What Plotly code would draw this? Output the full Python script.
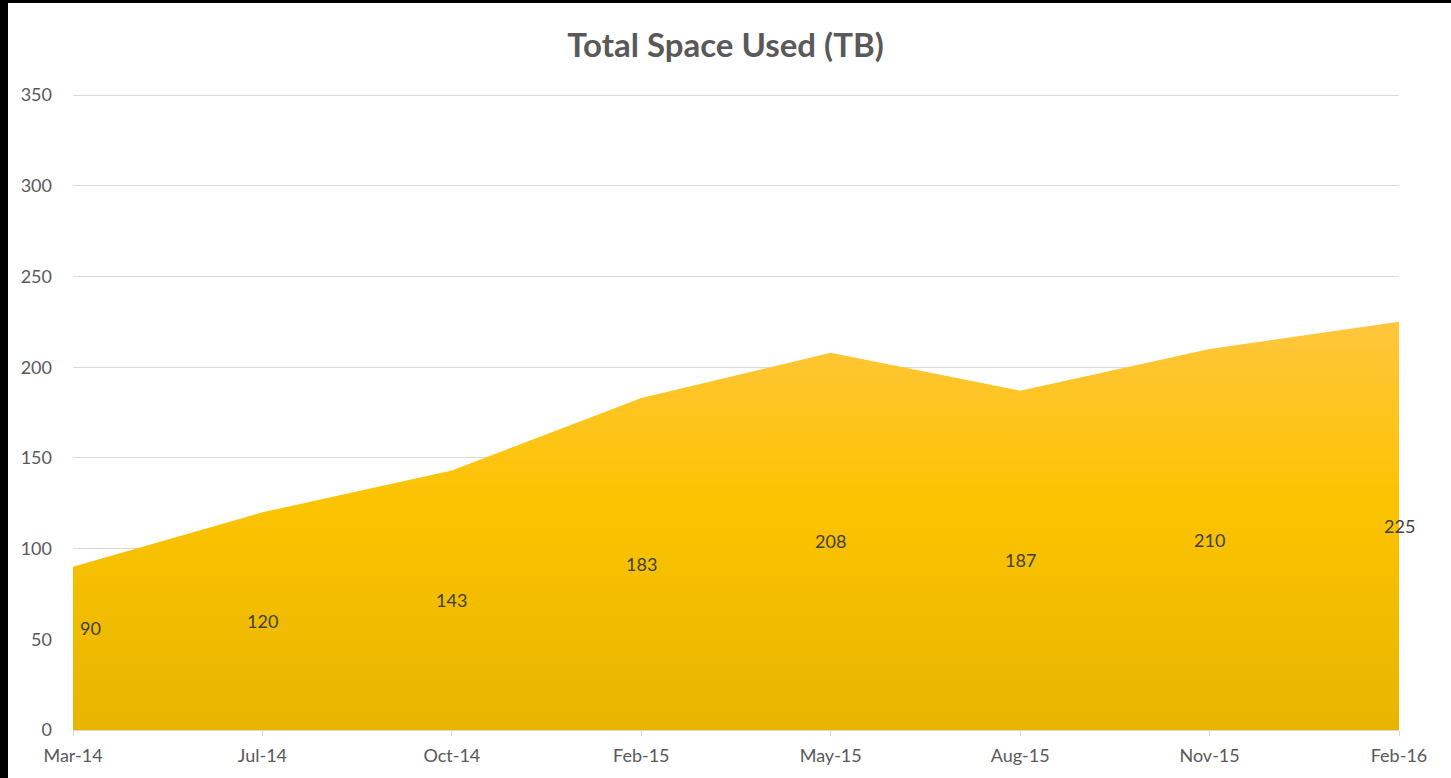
import plotly.graph_objects as go

categories = ["Mar-14", "Jul-14", "Oct-14", "Feb-15", "May-15", "Aug-15", "Nov-15", "Feb-16"]
space_tb = [90, 120, 143, 183, 208, 187, 210, 225]
y_ticks = [0, 50, 100, 150, 200, 250, 300, 350]

W, H = 1451, 778
ML, MR, MT, MB = 73, 52, 94, 48
PW = W - ML - MR
PH = H - MT - MB
FONT = "Lato, Open Sans, sans-serif"

fig = go.Figure()
fig.add_trace(go.Scatter(
    x=categories, y=space_tb, mode="lines", fill="tozeroy",
    line=dict(width=0, color="#FBC200"),
    fillgradient=dict(type="vertical", start=0, stop=max(space_tb),
                      colorscale=[[0, "#E7B500"], [0.55, "#FCC300"], [1, "#FFC63D"]]),
    hoverinfo="x+y", showlegend=False,
))

annotations = []
for i, (c, v) in enumerate(zip(categories, space_tb)):
    xs, ys = (17, 20) if i == 0 else (0, 0)
    annotations.append(dict(x=c, y=v / 2, text=str(v), showarrow=False,
                            xshift=xs, yshift=ys,
                            font=dict(family=FONT, size=18, color="#404040")))

fig.update_layout(
    width=W, height=H,
    margin=dict(l=ML, r=MR, t=MT, b=MB),
    paper_bgcolor="white", plot_bgcolor="white",
    title=dict(text="<b>Total Space Used (TB)</b>", x=0.5, xanchor="center",
               y=1 - 45 / H, yanchor="middle",
               font=dict(family=FONT, size=33, color="#595959")),
    annotations=annotations,
    xaxis=dict(type="category", range=[0, len(categories) - 1], showgrid=False,
               showline=True, linecolor="#D9D9D9", linewidth=1,
               ticks="outside", ticklen=5, tickcolor="#D9D9D9",
               tickfont=dict(family=FONT, size=18, color="#595959"),
               ticklabelstandoff=4, zeroline=False),
    yaxis=dict(range=[0, 350.6], tickvals=y_ticks, showgrid=True, gridcolor="#D9D9D9",
               gridwidth=1, zeroline=False, showline=False,
               tickfont=dict(family=FONT, size=18, color="#595959"),
               ticklabelstandoff=20),
    shapes=[
        dict(type="rect", xref="paper", yref="paper",
             x0=(0 - ML) / PW, x1=(8 - ML) / PW, y0=-MB / PH, y1=1 + MT / PH,
             fillcolor="black", line=dict(width=0), layer="above"),
        dict(type="rect", xref="paper", yref="paper",
             x0=(0 - ML) / PW, x1=1 + MR / PW, y0=1 + (MT - 3) / PH, y1=1 + MT / PH,
             fillcolor="black", line=dict(width=0), layer="above"),
    ],
)

fig.write_html("out.html", config={"displayModeBar": False},
               post_script="document.body.style.margin='0';")
